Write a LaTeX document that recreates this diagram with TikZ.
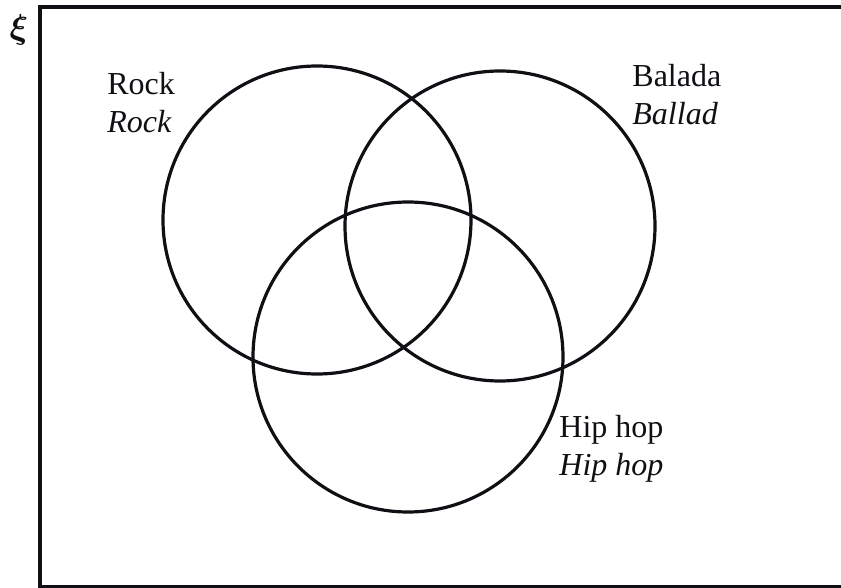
\documentclass[tikz,border=0pt]{standalone}
\usepackage{amsmath}
\usepackage{fontspec}
\setmainfont{Liberation Serif}
\usetikzlibrary{positioning}
\definecolor{myink}{RGB}{15,15,20}
\tikzset{
  setcircle/.style={circle, draw=myink, line width=1.6pt, inner sep=0pt},
  setlabel/.style={anchor=base west, align=left, inner sep=0pt, font=\fontsize{16}{19}\selectfont, text=myink},
  frame/.style={draw=myink, line width=2pt}
}

\begin{document}
\begin{tikzpicture}[x=0.5pt, y=-0.5pt]
  \useasboundingbox (0,0) rectangle (841,588);

  % Universal set
  \draw[frame] (40,7) rectangle (870,587);
  \node[text=myink, font=\fontsize{18}{20}\selectfont, inner sep=0pt] (xi) at (19,30) {$\boldsymbol{\xi}$};

  % The three sets
  \node[setcircle, minimum size=154pt] (rockset) at (317,220) {};
  \node[setcircle, minimum size=155pt] (baladaset) at (500,226) {};
  \node[setcircle, minimum size=155pt] (hiphopset) at (408,357) {};

  % Labels (base = last line)
  \node[setlabel] (rocklbl) at (107,133) {Rock\\\textit{Rock}};
  \node[setlabel] (baladalbl) at (632,125) {Balada\\\textit{Ballad}};
  \node[setlabel] (hiphoplbl) at (559,475) {Hip hop\\\textit{Hip hop}};
\end{tikzpicture}
\end{document}
